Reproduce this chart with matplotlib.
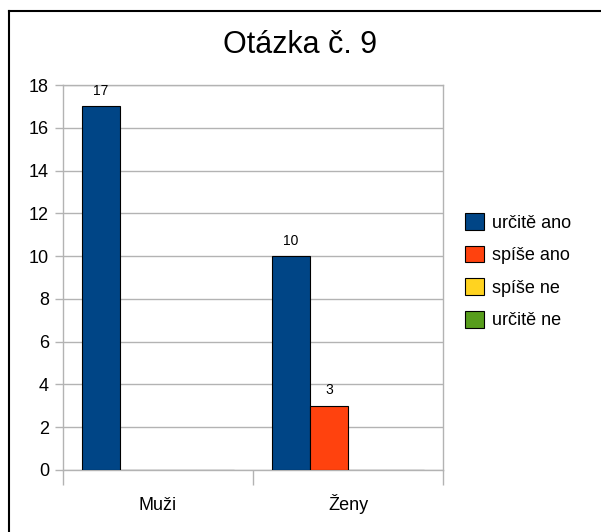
import matplotlib
matplotlib.use("Agg")
import matplotlib.pyplot as plt
from matplotlib.patches import Patch
from matplotlib.lines import Line2D
import numpy as np

plt.rcParams['font.family'] = ['Liberation Sans', 'DejaVu Sans']

title = "Otázka č. 9"
categories = ["Muži", "Ženy"]
series_names = ["určitě ano", "spíše ano", "spíše ne", "určitě ne"]
series_values = [
    [17, 10],
    [0, 3],
    [0, 0],
    [0, 0],
]
series_colors = ["#004586", "#ff420e", "#ffd320", "#579d1c"]
y_ticks = [0, 2, 4, 6, 8, 10, 12, 14, 16, 18]

fig = plt.figure(figsize=(6.01, 5.32), dpi=100)
ax = fig.add_axes([63/601, 1-470/532, 380/601, 385/532])

grid_c = "#b3b3b3"
n = len(series_names)
bw = 0.2
x = np.arange(len(categories))
for j, (name, vals, col) in enumerate(zip(series_names, series_values, series_colors)):
    pos = x - 0.3 + j*bw
    ax.bar(pos, vals, width=bw, color=col, edgecolor="black", linewidth=0.8, label=name, zorder=3)
    for p, v in zip(pos, vals):
        if v:
            ax.annotate(str(v), (p, v), xytext=(0, 6), textcoords="offset points",
                        ha="center", va="bottom", fontsize=10)

ax.set_xlim(-0.5, len(categories)-0.5)
ax.set_ylim(0, 18)
ax.set_yticks(y_ticks)
ax.tick_params(axis="y", labelsize=13, length=6, color=grid_c, width=1, pad=4)
ax.yaxis.grid(True, color=grid_c, linewidth=1, zorder=0)

ax.set_xticks(np.arange(-0.5, len(categories)), [""]*(len(categories)+1))
ax.tick_params(axis="x", which="major", length=11, color=grid_c, width=1)
trans = ax.get_xaxis_transform()
for xi, cat in zip(x, categories):
    ax.text(xi, -40/385, cat, transform=trans, ha="center", va="baseline", fontsize=13)

for s in ax.spines.values():
    s.set_color(grid_c)
    s.set_linewidth(1)

fig.text(300/601, 1-45/532, title, ha="center", va="center", fontsize=22)

handles = [Patch(facecolor=c, edgecolor="black", linewidth=0.8) for c in series_colors]
fig.legend(handles, series_names, loc="upper left", bbox_to_anchor=(465/601, 1-213/532),
           frameon=False, fontsize=13, borderpad=0, borderaxespad=0,
           handlelength=1.05, handleheight=1.05, handletextpad=0.45, labelspacing=0.78)

fig.add_artist(Line2D([9/601, 9/601], [0, 1-11/532], color="black", linewidth=1.5))
fig.add_artist(Line2D([9/601, 1], [1-11/532, 1-11/532], color="black", linewidth=1.5))

fig.savefig("out.png", dpi=100)
